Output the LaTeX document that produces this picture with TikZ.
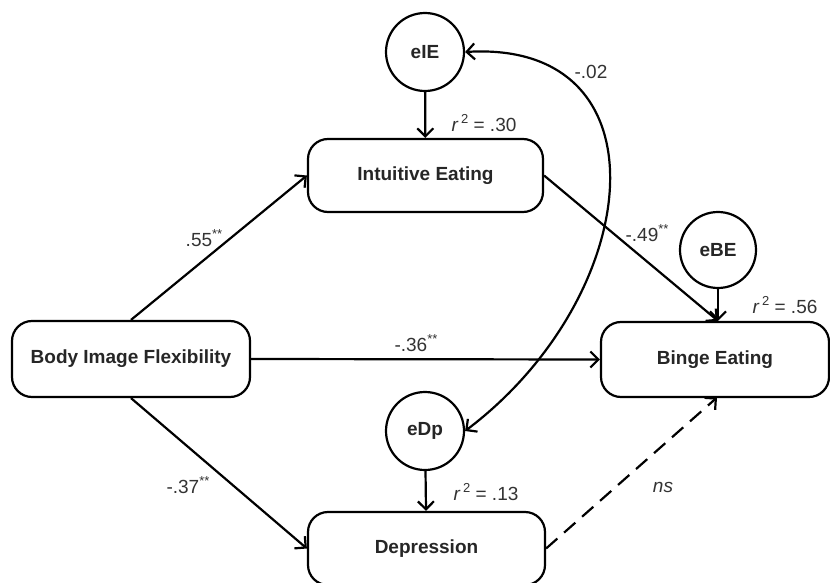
\documentclass[tikz,border=0pt]{standalone}
\usepackage{fontspec}
\setmainfont{Liberation Sans}
\usetikzlibrary{arrows.meta}
\newcommand\mysup[1]{\raisebox{0.42em}{\fontsize{13}{13}\selectfont #1}}
\begin{document}
\begin{tikzpicture}[x=1pt,y=-1pt,
  box/.style={draw, line width=2.2pt, rounded corners=20pt, inner sep=0pt,
    font=\fontsize{19}{21}\selectfont\bfseries, text=black!85},
  errc/.style={draw, circle, line width=2.2pt, inner sep=0pt, minimum size=78pt,
    font=\fontsize{19}{21}\selectfont\bfseries, text=black!85},
  conn/.style={line width=2.2pt, -{Straight Barb[length=8pt,width=16pt]}},
  lbl/.style={font=\fontsize{19}{21}\selectfont, text=black!80, inner sep=0pt}
]
\useasboundingbox (0,0) rectangle (830,583);
\fill[white] (0,0) rectangle (830,583);

% boxes
\node[box, minimum width=238pt, minimum height=76pt] (bif) at (131,359) {Body Image Flexibility};
\node[box, minimum width=235pt, minimum height=73pt] (ie) at (425.5,175.5) {Intuitive Eating};
\node[box, minimum width=228pt, minimum height=75pt] (be) at (715,359.5) {Binge Eating};
\node[box, minimum width=237pt, minimum height=73pt] (dp) at (426.5,548.5) {Depression};

% error terms
\node[errc] (eie) at (425,52) {eIE};
\node[errc, minimum size=76pt] (ebe) at (718,250) {eBE};
\node[errc] (edp) at (425,431) {eDp};

\coordinate (betop) at (ebe.south |- be.north);
\coordinate (bebot) at (717,397.5);

% paths
\draw[conn] (eie) -- (ie);
\draw[conn] (ebe) -- (betop);
\draw[conn] (edp) -- (dp);
\draw[conn] (bif.north) -- (ie.west);
\draw[conn] (bif.south) -- (dp.west);
\draw[conn] (bif.east) -- (be.west);
\draw[conn] (ie.east) -- (betop);
\draw[conn, dash pattern=on 15pt off 9pt] (dp.east) -- (bebot);

% covariance
\draw[line width=2.2pt, {Straight Barb[length=8pt,width=16pt]}-{Straight Barb[length=8pt,width=16pt]}]
  (eie.east) .. controls (670,40) and (645,295) .. (edp.east);

% labels
\node[lbl] (l55) at (204,238) {.55\mysup{**}};
\node[lbl] (l37) at (188,485) {-.37\mysup{**}};
\node[lbl] (l36) at (416,343) {-.36\mysup{**}};
\node[lbl] (l49) at (647,233) {-.49\mysup{**}};
\node[lbl] (l02) at (591,72) {-.02};
\node[lbl] (lns) at (663,487) {\itshape ns};
\node[lbl] (r30) at (484,123) {{\itshape r}\,\mysup{2} = .30};
\node[lbl] (r56) at (785,305) {{\itshape r}\,\mysup{2} = .56};
\node[lbl] (r13) at (486,492) {{\itshape r}\,\mysup{2} = .13};
\end{tikzpicture}
\end{document}
